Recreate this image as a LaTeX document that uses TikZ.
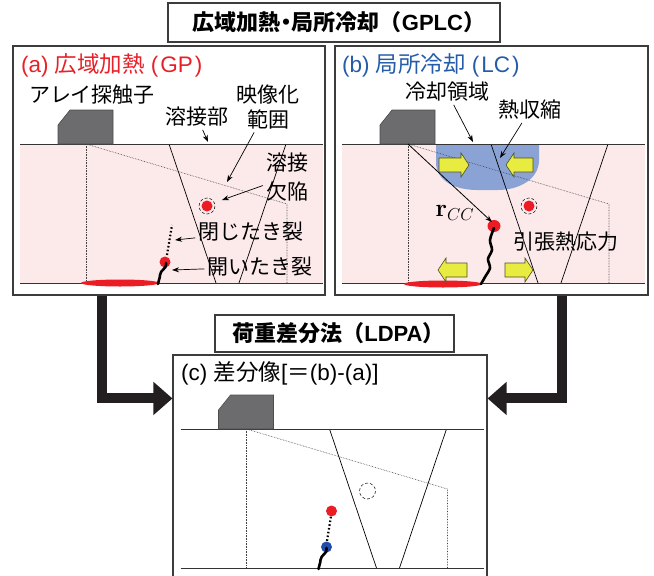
\documentclass[tikz,border=0pt]{standalone}
\usepackage[no-math]{fontspec}
\setmainfont{Liberation Sans}
\newfontfamily\jp{Noto Sans CJK JP}
\usetikzlibrary{arrows.meta,calc}

\definecolor{ttlred}{RGB}{232,32,40}
\definecolor{ttlblue}{RGB}{36,92,168}
\definecolor{steelpink}{RGB}{252,233,234}
\definecolor{probegray}{RGB}{108,108,110}
\definecolor{coolblue}{RGB}{138,163,212}
\definecolor{arrowyellow}{RGB}{232,236,64}
\definecolor{arrowedge}{RGB}{80,80,30}
\definecolor{flawred}{RGB}{236,28,36}
\definecolor{tipblue}{RGB}{34,78,168}
\definecolor{framegray}{RGB}{60,60,60}
\definecolor{bigblack}{RGB}{35,31,32}

\tikzset{
  panel/.style={draw=framegray, line width=1.1pt, inner sep=0pt},
  headbox/.style={draw=framegray, line width=1.3pt, inner sep=0pt,
    font=\bfseries\fontsize{22}{24}\selectfont},
  paneltitle/.style={anchor=west, inner sep=0pt, font=\fontsize{22.5}{24}\selectfont},
  lbl/.style={font=\jp\fontsize{21}{25}\selectfont, inner sep=3pt, align=center},
  lblarrow/.style={-{Stealth[length=7pt,width=5pt]}, line width=0.7pt},
  surface/.style={line width=0.8pt, draw=black!80},
  zone/.style={densely dotted, line width=0.6pt, draw=black!75},
  weld/.style={line width=0.7pt},
  crack/.style={line width=2.6pt, line cap=round},
  closedcrack/.style={line width=2.2pt, dash pattern=on 1.6pt off 2.2pt},
  bigconn/.style={draw=bigblack, line width=10pt, -{Triangle[length=19pt,width=32pt]}},
  yarrow/.style={fill=arrowyellow, draw=arrowedge, line width=0.6pt},
  probe/.style={fill=probegray, draw=black!70, line width=0.6pt},
}

% narrow brackets around a Latin abbreviation in a panel title
\newcommand\abbr[1]{\hspace{6pt}(\hspace{2pt}#1\hspace{2pt})}

% block arrow: tail x, tip x, centre y
\newcommand\blockarrow[3]{%
  \pgfmathsetmacro\headbase{#2-8*sign(#2-#1)}%
  \filldraw[yarrow] (#1,#3-7) -- (\headbase,#3-7) -- (\headbase,#3-12) -- (#2,#3)
    -- (\headbase,#3+12) -- (\headbase,#3+7) -- (#1,#3+7) -- cycle;}

% steel plate body
\newcommand\steelbody{\fill[steelpink] (20,144) rectangle (323,283);}

% probe, imaging zone, weld groove and plate surfaces
\newcommand\specimenlines{%
  \draw[zone] (86,144) -- (86,283);
  \draw[zone] (86,144) -- (287,204) -- (287,283);
  \draw[weld] (169,144) -- (216,283);
  \draw[weld] (286,144) -- (239,283);
  \draw[surface] (20,144) -- (323,144);
  \draw[surface] (20,283) -- (323,283);
  \filldraw[probe] (58,144) -- (58,125) -- (70,110) -- (113,110) -- (113,144) -- cycle;}

\begin{document}
\begin{tikzpicture}[x=1pt,y=-1pt]
\useasboundingbox (0,0) rectangle (654,576);

% headings
\node[headbox, minimum width=332pt, minimum height=39pt] (gplc) at (334,22.5)
  {\hspace*{10pt}{\jp 広域加熱\kern-5.5pt・\kern-5.5pt局所冷却（}GPLC{\jp ）}};
\node[headbox, minimum width=239pt, minimum height=37pt] (ldpa) at (334.5,333.5)
  {\hspace*{8pt}{\jp 荷重差分法（}LDPA{\jp ）}};

% panel frames
\node[panel, minimum width=312pt, minimum height=249pt] (pa) at (169,170.5) {};
\node[panel, minimum width=313pt, minimum height=249pt] (pb) at (491.5,170.5) {};
\node[panel, minimum width=314pt, minimum height=260pt] (pc) at (330,485) {};

% ---------- (a) global preheating ----------
\steelbody
\specimenlines
\fill[flawred] (120,283) ellipse (39 and 3.5);
\fill[flawred] (207,206) circle (5.5);
\draw[densely dashed, line width=0.5pt] (207,206) circle (8);
\draw[closedcrack] (167,255) -- (172,225);
\fill[flawred] (165,262) circle (5.5);
\draw[crack] (166,263) .. controls (168,268) and (160,270) .. (160,275) .. controls (160,279) and (158,281) .. (158,284);

\node[paneltitle, text=ttlred] (ta) at (21,65) {(a) {\jp 広域加熱}\abbr{GP}};
\node[lbl] (probeA) at (92,95) {アレイ探触子};
\node[lbl] (weldA) at (197,117) {溶接部};
\node[lbl] (rangeA) at (268,107) {映像化\\範囲};
\node[lbl, font=\jp\fontsize{21}{29}\selectfont] (flawA) at (287,177) {溶接\\欠陥};
\node[lbl] (closedA) at (251,232) {閉じたき裂};
\node[lbl] (openA) at (260,267) {開いたき裂};
\coordinate (weldTip) at (208,142);
\coordinate (rangeTip) at (227,182);
\coordinate (flawTip) at (222,200);
\coordinate (closedTip) at (175,240);
\coordinate (openTip) at (172,270);
\draw[lblarrow] (weldA) -- (weldTip);
\draw[lblarrow] (rangeA) -- (rangeTip);
\draw[lblarrow] (flawA) -- (flawTip);
\draw[lblarrow] (closedA) -- (closedTip);
\draw[lblarrow] (openA) -- (openTip);

% ---------- (b) local cooling ----------
\begin{scope}[shift={(322,0)}]
  \steelbody
  \fill[coolblue] (114,144) -- (114,162) .. controls (114,182) and (135,190) .. (155,190)
    -- (176,190) .. controls (196,190) and (217,180) .. (217,160) -- (217,144) -- cycle;
  \specimenlines
  \coordinate (cornerB) at (86,144);
  \fill[flawred] (121,284) ellipse (39 and 3.5);
  \fill[flawred] (207,206) circle (5.5);
  \draw[densely dashed, line width=0.5pt] (207,206) circle (8);
  \fill[flawred] (172,226) ellipse (6.5 and 6);
  \draw[crack] plot[smooth] coordinates {(172,228) (168,240) (170,250) (166,259) (168,268) (163,277) (159,284)};
  \coordinate (crackTipB) at (170,222);
\end{scope}
\blockarrow{439}{469}{165}
\blockarrow{533}{506}{165}
\blockarrow{467}{438}{270}
\blockarrow{505}{533}{270}
\draw[lblarrow, line width=0.8pt] (cornerB) -- (crackTipB);
\node[font=\fontsize{25}{28}\selectfont] (rcc) at (455,213) {$\mathbf{r}_{CC}$};

\node[paneltitle, text=ttlblue] (tb) at (342,65) {(b) {\jp 局所冷却}\abbr{LC}};
\node[lbl] (coolB) at (447,92) {冷却領域};
\node[lbl] (shrinkB) at (530,110) {熱収縮};
\node[lbl] (tensB) at (566,242) {引張熱応力};
\coordinate (coolTip) at (473,142);
\coordinate (shrinkTip) at (500,158);
\draw[lblarrow] (coolB) -- (coolTip);
\draw[lblarrow] (shrinkB) -- (shrinkTip);

% ---------- (c) difference image ----------
\begin{scope}[shift={(160.5,285)}]
  \specimenlines
  \draw[densely dashed, line width=0.5pt] (207,206) circle (8);
  \draw[closedcrack] (171,228) -- (166,259);
  \fill[flawred] (171,226) circle (5.5);
  \fill[tipblue] (166,262) circle (5.5);
  \draw[crack] (166,263) .. controls (168,268) and (160,270) .. (160,275) .. controls (160,279) and (158,281) .. (158,284);
\end{scope}
\node[paneltitle] (tc) at (181,373) {(c) {\jp 差分像}[{\jp ＝}(b)-(a)]};

% connectors into the difference image
\draw[bigconn] ([xshift=-67pt]pa.south) |- ([yshift=-44pt]pc.north west);
\draw[bigconn] ([xshift=70pt]pb.south) |- ([yshift=-44pt]pc.north east);
\end{tikzpicture}
\end{document}
